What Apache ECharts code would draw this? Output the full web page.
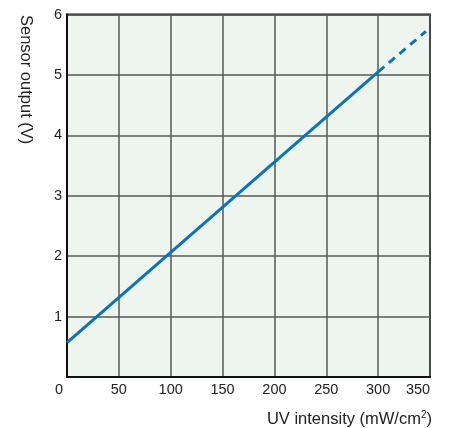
<!DOCTYPE html>
<html>
<head>
<meta charset="utf-8">
<script src="https://cdn.jsdelivr.net/npm/echarts@6/dist/echarts.min.js"></script>
<style>
html,body{margin:0;padding:0;background:#fff;}
#c{width:449px;height:428px;}
</style>
</head>
<body>
<div id="c"></div>
<script>
// Data
const xTicks = [0, 50, 100, 150, 200, 250, 300, 350];
const yTicks = [0, 1, 2, 3, 4, 5, 6];
const solidX = [0, 300];
const solidY = [0.57, 5.05];
const dashX = [300, 346];
const dashY = [5.05, 5.72];
const xName = 'UV intensity (mW/cm';
const yName = 'Sensor output (V)';

const chart = echarts.init(document.getElementById('c'), null, {renderer: 'canvas'});
const font = 'Liberation Sans, Arial, sans-serif';
const lineColor = '#0a72c0';
const gridColor = '#545a54';
const tickFs = 14.5;

chart.setOption({
  animation: false,
  grid: {left: 67, right: 19, top: 14.5, bottom: 51, show: true,
         backgroundColor: '#eef4ee', borderColor: '#1a1a1a', borderWidth: 2},
  xAxis: {
    type: 'value', min: 0, max: 350, interval: 50,
    name: '{n|' + xName + '}{s|2}{n|)}',
    nameLocation: 'end',
    nameGap: 0,
    nameTextStyle: {
      align: 'right', verticalAlign: 'top', padding: [33, -2, 0, 0],
      rich: {
        n: {fontFamily: font, fontSize: 16.5, color: '#222'},
        s: {fontFamily: font, fontSize: 10, color: '#222', verticalAlign: 'top', padding: [0,0,9,0]}
      }
    },
    axisLine: {show: true, lineStyle: {color: '#111', width: 2}},
    axisTick: {show: false},
    splitLine: {show: true, lineStyle: {color: gridColor, width: 1.5}},
    axisLabel: {
      margin: 5,
      fontFamily: font, fontSize: tickFs, color: '#222',
      formatter: function (v) {
        if (v === 0) return '{z|0}';
        if (v === 350) return '{e|350}';
        return String(v);
      },
      rich: {
        z: {fontFamily: font, fontSize: tickFs, color: '#222', padding: [0, 16, 0, 0]},
        e: {fontFamily: font, fontSize: tickFs, color: '#222', padding: [0, 24, 0, 0]}
      }
    }
  },
  yAxis: {
    type: 'value', min: 0, max: 6, interval: 1,
    axisLine: {show: true, lineStyle: {color: '#111', width: 2}},
    axisTick: {show: false},
    splitLine: {show: true, lineStyle: {color: gridColor, width: 1.5}},
    axisLabel: {
      margin: 5, fontFamily: font, fontSize: tickFs, color: '#222',
      formatter: function (v) { return v === 0 ? '' : String(v); }
    }
  },
  graphic: [{
    type: 'text',
    left: 17, top: 15,
    rotation: -Math.PI / 2,
    style: {text: yName, fontFamily: font, fontSize: 16.5, fill: '#222'}
  }],
  series: [
    {
      type: 'line', data: solidX.map((x, i) => [x, solidY[i]]),
      symbol: 'none', lineStyle: {color: lineColor, width: 3}, z: 5
    },
    {
      type: 'line', data: dashX.map((x, i) => [x, dashY[i]]),
      symbol: 'none', lineStyle: {color: lineColor, width: 3, type: [8, 6]}, z: 5
    }
  ]
});
</script>
</body>
</html>
